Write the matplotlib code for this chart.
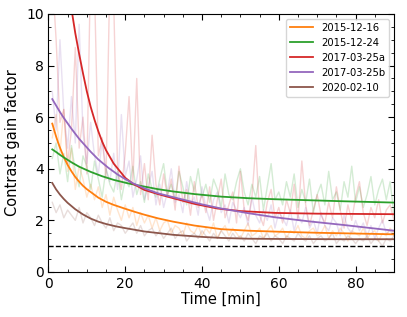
import numpy as np
import matplotlib.pyplot as plt
from matplotlib.ticker import MultipleLocator

# ---- measured data (1 sample per minute) ----
t_raw = np.arange(1, 91)

orange_raw = [5.2, 6.1, 4.6, 6.3, 3.9, 4.8, 3.2, 4.1, 3.6, 2.9,
              3.4, 2.8, 3.3, 2.5, 3.0, 2.2, 2.9, 2.4, 2.0, 2.6,
              2.1, 2.5, 1.8, 2.3, 1.9, 2.2, 1.7, 2.1, 1.6, 1.9,
              2.0, 1.5, 1.8, 1.7, 1.4, 1.9, 1.6, 1.5, 1.8, 1.4,
              1.7, 1.5, 1.9, 1.3, 1.6, 1.8, 1.4, 1.7, 1.5, 1.3,
              1.6, 1.9, 1.4, 1.5, 1.7, 1.3, 1.6, 1.8, 1.4, 1.5,
              1.7, 1.3, 1.6, 1.5, 1.8, 1.4, 1.3, 1.6, 1.7, 1.4,
              1.5, 1.8, 1.3, 1.6, 1.4, 1.7, 1.5, 1.2, 1.6, 1.5,
              1.4, 1.7, 1.3, 1.5, 1.6, 1.2, 1.5, 1.4, 1.7, 1.5]

green_raw = [4.4, 5.0, 3.8, 4.6, 3.5, 4.9, 3.9, 3.3, 4.5, 4.1,
             3.2, 4.3, 3.6, 2.9, 4.0, 3.4, 3.1, 3.9, 2.8, 3.6,
             3.3, 4.1, 3.0, 3.5, 2.7, 3.8, 3.2, 2.9, 3.6, 4.2,
             3.0, 3.4, 2.8, 3.9, 3.3, 2.6, 3.7, 3.1, 4.0, 2.9,
             3.4, 2.7, 3.6, 3.2, 2.5, 3.8, 3.0, 2.8, 3.5, 4.0,
             3.1, 2.6, 3.4, 2.9, 3.7, 2.4, 3.3, 4.2, 2.8, 3.1,
             2.6, 3.5, 2.9, 3.8, 2.5, 3.2, 2.7, 3.6, 2.3, 3.0,
             3.4, 2.6, 3.9, 2.8, 3.1, 2.4, 3.5, 2.9, 4.1, 2.7,
             3.3, 2.5, 3.0, 3.7, 2.6, 3.2, 3.6, 2.8, 3.5, 2.2]

red_raw = [11.5, 9.0, 5.8, 6.3, 4.2, 5.5, 8.7, 4.8, 6.0, 3.8,
           12.0, 11.0, 4.5, 5.2, 3.6, 11.5, 10.5, 4.0, 3.2, 4.6,
           6.8, 3.5, 7.5, 3.0, 4.2, 2.8, 5.3, 3.4, 2.6, 3.8,
           2.9, 3.6, 2.4, 4.1, 2.7, 3.2, 2.2, 3.5, 2.5, 3.0,
           2.3, 3.3, 2.0, 2.8, 3.6, 2.1, 2.6, 3.1, 1.9, 3.9,
           2.4, 2.0, 2.9, 4.9, 2.2, 1.8, 2.7, 3.2, 2.1, 2.5,
           1.9, 2.8, 2.3, 3.4, 2.0, 4.3, 2.6, 1.8, 2.4, 3.0,
           2.2, 1.9, 2.7, 2.1, 3.3, 2.4, 1.7, 2.6, 2.0, 2.9,
           3.5, 2.3, 1.8, 2.5, 2.1, 2.8, 1.9, 2.4, 2.6, 2.0]

purple_raw = [7.0, 5.5, 9.0, 6.2, 4.8, 6.8, 5.0, 9.6, 5.4, 4.2,
              5.8, 4.5, 3.8, 5.1, 4.0, 3.5, 4.6, 3.2, 6.1, 3.7,
              4.3, 2.9, 3.6, 4.5, 2.8, 3.3, 3.9, 2.6, 3.4, 2.5,
              3.1, 4.0, 2.7, 3.0, 2.3, 3.5, 2.6, 2.9, 2.2, 3.3,
              2.5, 2.0, 2.8, 3.1, 2.3, 2.6, 1.9, 2.7, 2.4, 2.1,
              2.5, 1.8, 2.9, 2.2, 1.9, 2.4, 2.0, 2.6, 1.7, 2.3,
              2.1, 1.8, 2.4, 1.6, 2.2, 1.9, 2.5, 1.7, 2.0, 1.5,
              2.3, 1.8, 1.6, 2.1, 1.9, 1.4, 2.2, 1.7, 1.5, 2.0,
              1.6, 1.9, 1.4, 1.8, 1.3, 1.7, 2.0, 1.5, 1.6, 1.4]

brown_raw = [2.7, 2.3, 2.6, 2.1, 2.4, 2.2, 2.0, 2.5, 1.9, 2.3,
             2.1, 1.8, 2.2, 1.9, 1.7, 2.1, 1.6, 1.9, 1.8, 1.5,
             1.7, 1.9, 1.5, 1.8, 1.4, 1.6, 1.7, 1.4, 1.6, 1.3,
             1.5, 1.7, 1.3, 1.5, 1.6, 1.2, 1.4, 1.5, 1.3, 1.6,
             1.4, 1.2, 1.5, 1.3, 1.6, 1.4, 1.2, 1.5, 1.3, 1.4,
             1.2, 1.5, 1.3, 1.1, 1.4, 1.3, 1.5, 1.2, 1.4, 1.3,
             1.1, 1.4, 1.3, 1.2, 1.5, 1.3, 1.2, 1.4, 1.1, 1.3,
             1.4, 1.2, 1.3, 1.5, 1.1, 1.3, 1.2, 1.4, 1.3, 1.1,
             1.3, 1.2, 1.4, 1.1, 1.3, 1.2, 1.0, 1.3, 1.2, 1.4]

# ---- fitted curves ----
orange_fit_t = [1, 1.5, 2, 2.5, 3, 4, 5, 6, 7, 8, 9, 10, 11, 13, 15, 17, 20, 22.5, 25, 28.5, 32.5, 38, 45, 52, 60, 70, 80, 90]
orange_fit = [5.75, 5.5, 5.25, 5.02, 4.82, 4.45, 4.15, 3.9, 3.68, 3.5, 3.34, 3.21, 3.1, 2.88, 2.72, 2.6, 2.45, 2.33, 2.22, 2.08, 1.95, 1.8, 1.66, 1.6, 1.56, 1.52, 1.49, 1.46]

green_fit_t = [1, 2, 3, 4, 6, 8, 11, 14, 17, 20, 22.5, 25, 28.5, 32.5, 38, 45, 52, 59, 68, 77, 90]
green_fit = [4.75, 4.65, 4.54, 4.44, 4.25, 4.08, 3.88, 3.71, 3.57, 3.46, 3.38, 3.31, 3.21, 3.12, 3.02, 2.92, 2.86, 2.82, 2.78, 2.74, 2.69]

red_fit_t = [6.2, 7, 8, 9, 10, 11, 12, 13, 14, 15, 17, 20, 22, 25, 28.5, 32.5, 38, 44, 50, 59, 70, 80, 90]
red_fit = [10.0, 9.25, 8.45, 7.7, 7.0, 6.4, 5.9, 5.45, 5.05, 4.72, 4.2, 3.65, 3.42, 3.18, 3.02, 2.86, 2.64, 2.46, 2.36, 2.29, 2.26, 2.25, 2.24]

purple_fit_t = [1, 2, 3, 4, 6, 8, 11, 13, 15.5, 18, 20, 22, 25, 28.5, 32.5, 40, 45, 52, 59, 68, 77, 90]
purple_fit = [6.7, 6.45, 6.2, 5.97, 5.55, 5.16, 4.66, 4.36, 4.05, 3.78, 3.6, 3.44, 3.24, 3.05, 2.9, 2.62, 2.46, 2.28, 2.12, 1.96, 1.82, 1.6]

brown_fit_t = [1, 2, 3, 4, 5, 7, 9, 11, 13, 15, 17.5, 20, 25, 32.5, 40, 45, 52, 60, 75, 90]
brown_fit = [3.45, 3.2, 3.0, 2.83, 2.68, 2.43, 2.23, 2.07, 1.95, 1.86, 1.77, 1.7, 1.57, 1.44, 1.36, 1.32, 1.29, 1.28, 1.27, 1.27]

labels = ["2015-12-16", "2015-12-24", "2017-03-25a", "2017-03-25b", "2020-02-10"]
colors = ["#ff7f0e", "#2ca02c", "#d62728", "#9467bd", "#8c564b"]

raws = [orange_raw, green_raw, red_raw, purple_raw, brown_raw]
fits = [(orange_fit_t, orange_fit), (green_fit_t, green_fit), (red_fit_t, red_fit),
        (purple_fit_t, purple_fit), (brown_fit_t, brown_fit)]

fig = plt.figure(figsize=(4.07, 3.17), dpi=100)
ax = fig.add_axes([0.119, 0.142, 0.849, 0.814])

for raw, c in zip(raws, colors):
    ax.plot(t_raw, raw, color=c, alpha=0.2, lw=1.0)

for (ft, fv), c, lab in zip(fits, colors, labels):
    ax.plot(ft, fv, color=c, lw=1.3, label=lab)

ax.axhline(1, color="k", ls="--", lw=1.0)

ax.set_xlim(0, 90)
ax.set_ylim(0, 10)
ax.set_xlabel("Time [min]", fontsize=10.5, labelpad=1)
ax.set_ylabel("Contrast gain factor", fontsize=10.5)

ax.xaxis.set_major_locator(MultipleLocator(20))
ax.xaxis.set_minor_locator(MultipleLocator(5))
ax.yaxis.set_major_locator(MultipleLocator(2))
ax.yaxis.set_minor_locator(MultipleLocator(0.5))
ax.tick_params(which="both", direction="in", top=True, right=True, labelsize=10)
ax.tick_params(which="major", length=4)
ax.tick_params(which="minor", length=2)

ax.legend(loc="upper right", fontsize=7.2, handlelength=2.3, borderaxespad=0.5)

fig.savefig("out.png", dpi=100)
